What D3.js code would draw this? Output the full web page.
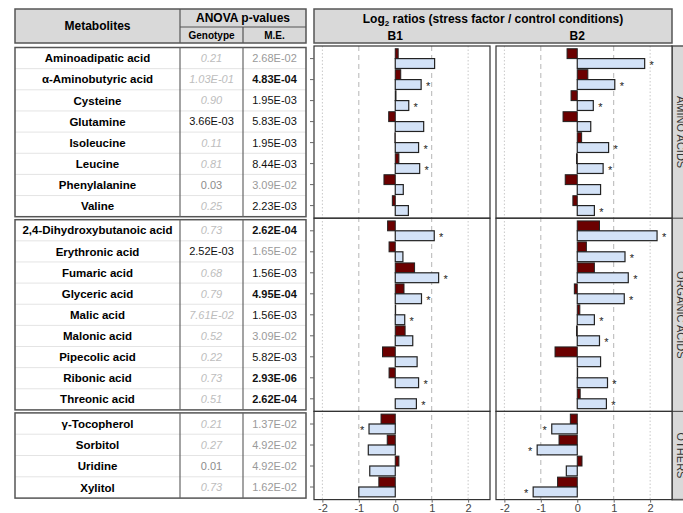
<!DOCTYPE html>
<html>
<head>
<meta charset="utf-8">
<script src="https://cdn.jsdelivr.net/npm/d3@7"></script>
<style>
  body { margin: 0; background: #fff; }
  svg { font-family: "Liberation Sans", Arial, sans-serif; }
</style>
</head>
<body>
<div id="chart"></div>
<script>
// DATA

// Metabolite names, in plot order
var metabolites = [
    "Aminoadipatic acid", "α-Aminobutyric acid", "Cysteine", "Glutamine",
    "Isoleucine", "Leucine", "Phenylalanine", "Valine",
    "2,4-Dihydroxybutanoic acid", "Erythronic acid", "Fumaric acid", "Glyceric acid",
    "Malic acid", "Malonic acid", "Pipecolic acid", "Ribonic acid", "Threonic acid",
    "γ-Tocopherol", "Sorbitol", "Uridine", "Xylitol"
];
// Facet groups and how many metabolites each holds
var groups = ["AMINO ACIDS", "ORGANIC ACIDS", "OTHERS"];
var groupSizes = [8, 9, 4];

// ANOVA p-values as printed
var genotypeP = [
    "0.21", "1.03E-01", "0.90", "3.66E-03", "0.11", "0.81", "0.03", "0.25",
    "0.73", "2.52E-03", "0.68", "0.79", "7.61E-02", "0.52", "0.22", "0.73", "0.51",
    "0.21", "0.27", "0.01", "0.73"
];
var meP = [
    "2.68E-02", "4.83E-04", "1.95E-03", "5.83E-03", "1.95E-03", "8.44E-03", "3.09E-02", "2.23E-03",
    "2.62E-04", "1.65E-02", "1.56E-03", "4.95E-04", "1.56E-03", "3.09E-02", "5.82E-03", "2.93E-06", "2.62E-04",
    "1.37E-02", "4.92E-02", "4.92E-02", "1.62E-02"
];

// Log2 ratios, B1
var b1Dark = [0.08, 0.15, 0.02, -0.18, -0.01, 0.10, -0.31, -0.08,
    -0.21, -0.17, 0.53, 0.24, 0.01, 0.27, -0.35, -0.17, 0.0,
    -0.39, -0.22, 0.10, -0.45];
var b1Light = [1.08, 0.71, 0.37, 0.78, 0.64, 0.67, 0.22, 0.36,
    1.07, 0.21, 1.19, 0.72, 0.26, 0.48, 0.60, 0.64, 0.58,
    -0.72, -0.74, -0.70, -1.00];
var b1Star = [0, 1, 1, 0, 1, 1, 0, 0,
    1, 0, 1, 1, 1, 0, 0, 1, 1,
    1, 0, 0, 0];

// Log2 ratios, B2
var b2Dark = [-0.28, 0.29, -0.17, -0.39, 0.12, -0.02, -0.33, -0.12,
    0.61, 0.25, 0.47, -0.08, 0.07, -0.02, -0.61, 0.01, 0.08,
    -0.19, -0.50, 0.13, -0.54];
var b2Light = [1.85, 1.03, 0.44, 0.37, 0.86, 0.71, 0.64, 0.47,
    2.19, 1.31, 1.40, 1.29, 0.47, 0.61, 0.64, 0.83, 0.80,
    -0.70, -1.10, -0.30, -1.21];
var b2Star = [1, 1, 1, 0, 1, 1, 0, 1,
    1, 1, 1, 1, 1, 1, 0, 1, 1,
    1, 1, 0, 1];

var xTicks = [-2, -1, 0, 1, 2];
var xDomain = [-2.23, 2.6];

// LAYOUT

var width = 683;
var height = 513;
var rowUnit = 21;
var panelTop = 46;
var headTop = 9;
var headBot = 43;
var tableLeft = 15, colGeno = 180, colME = 243, tableRight = 306;
var panels = [
    { name: "B1", left: 314, right: 490, dark: b1Dark, light: b1Light, star: b1Star },
    { name: "B2", left: 496, right: 672, dark: b2Dark, light: b2Light, star: b2Star }
];
var stripRight = 700;
var darkColor = "#6b0000";
var lightColor = "#d3e2f7";
var headFill = "#d9d9d9";

var svg = d3.select("#chart")
    .append("svg")
    .attr("width", width)
    .attr("height", height);

// Build groups with their vertical extents
var groupInfo = [];
var rowStart = 0, curTop = panelTop;
groupSizes.forEach(function(n, g) {
    var bottom = curTop + (n + 0.2) * rowUnit;
    groupInfo.push({
        name: groups[g], start: rowStart, n: n, top: curTop, bottom: bottom,
        y: d3.scaleLinear().domain([-0.6, n - 0.4]).range([curTop, bottom])
    });
    rowStart += n;
    curTop = bottom;
});
var chartBottom = curTop;

// row lookup
var rows = metabolites.map(function(m, i) {
    var g = groupInfo.find(function(gi) { return i >= gi.start && i < gi.start + gi.n; });
    return { i: i, name: m, g: g, k: i - g.start, cy: g.y(i - g.start) };
});

// TABLE

// header
svg.append("rect")
    .attr("x", tableLeft).attr("y", headTop)
    .attr("width", tableRight - tableLeft).attr("height", headBot - headTop)
    .attr("fill", headFill).attr("stroke", "#555").attr("stroke-width", 1.5);
svg.append("line")
    .attr("x1", colGeno).attr("x2", colGeno).attr("y1", headTop).attr("y2", headBot)
    .attr("stroke", "#555").attr("stroke-width", 1.2);
svg.append("line")
    .attr("x1", colGeno).attr("x2", tableRight).attr("y1", 27).attr("y2", 27)
    .attr("stroke", "#555").attr("stroke-width", 1.2);
svg.append("line")
    .attr("x1", colME).attr("x2", colME).attr("y1", 27).attr("y2", headBot)
    .attr("stroke", "#555").attr("stroke-width", 1.2);
svg.append("text")
    .attr("x", (tableLeft + colGeno) / 2).attr("y", 30)
    .attr("text-anchor", "middle").attr("font-size", 12).attr("font-weight", "bold")
    .text("Metabolites");
svg.append("text")
    .attr("x", (colGeno + tableRight) / 2).attr("y", 22)
    .attr("text-anchor", "middle").attr("font-size", 12).attr("font-weight", "bold")
    .text("ANOVA p-values");
svg.append("text")
    .attr("x", (colGeno + colME) / 2).attr("y", 39)
    .attr("text-anchor", "middle").attr("font-size", 10).attr("font-weight", "bold")
    .text("Genotype");
svg.append("text")
    .attr("x", (colME + tableRight) / 2).attr("y", 39)
    .attr("text-anchor", "middle").attr("font-size", 10).attr("font-weight", "bold")
    .text("M.E.");

// body boxes, one per group
groupInfo.forEach(function(g) {
    var bTop = g.top + 1.5, bBot = g.bottom - 1.5;
    var rh = (bBot - bTop) / g.n;
    g.tTop = bTop; g.rh = rh;
    var box = svg.append("g");
    for (var k = 1; k < g.n; k++) {
        box.append("line")
            .attr("x1", tableLeft).attr("x2", tableRight)
            .attr("y1", bTop + k * rh).attr("y2", bTop + k * rh)
            .attr("stroke", "#e4e4e4").attr("stroke-width", 1);
    }
    box.append("rect")
        .attr("x", tableLeft).attr("y", bTop)
        .attr("width", tableRight - tableLeft).attr("height", bBot - bTop)
        .attr("fill", "none").attr("stroke", "#555").attr("stroke-width", 1.5);
    [colGeno, colME].forEach(function(cx) {
        box.append("line")
            .attr("x1", cx).attr("x2", cx).attr("y1", bTop).attr("y2", bBot)
            .attr("stroke", "#666").attr("stroke-width", 1.2);
    });
});

// p-value styles
function genoStyle(s) {
    var p = +s;
    if (p > 0.05) return { fill: "#bdbdbd", italic: true, bold: false };
    if (p >= 0.01) return { fill: "#8c8c8c", italic: false, bold: false };
    return { fill: "#111", italic: false, bold: false };
}
function meStyle(s) {
    var p = +s;
    if (p < 0.001) return { fill: "#111", italic: false, bold: true };
    if (p < 0.01) return { fill: "#111", italic: false, bold: false };
    return { fill: "#9a9a9a", italic: false, bold: false };
}

var trow = svg.selectAll("g.trow").data(rows).enter()
    .append("g").attr("class", "trow")
    .attr("transform", function(d) {
        return "translate(0," + (d.g.tTop + (d.k + 0.5) * d.g.rh) + ")";
    });
trow.append("text")
    .attr("x", (tableLeft + colGeno) / 2).attr("dy", "0.36em")
    .attr("text-anchor", "middle").attr("font-size", 11.5).attr("font-weight", "bold")
    .text(function(d) { return d.name; });
trow.append("text")
    .attr("x", (colGeno + colME) / 2).attr("dy", "0.36em")
    .attr("text-anchor", "middle").attr("font-size", 11)
    .each(function(d) {
        var s = genoStyle(genotypeP[d.i]);
        d3.select(this).attr("fill", s.fill)
            .attr("font-style", s.italic ? "italic" : "normal")
            .attr("font-weight", s.bold ? "bold" : "normal");
    })
    .text(function(d) { return genotypeP[d.i]; });
trow.append("text")
    .attr("x", (colME + tableRight) / 2).attr("dy", "0.36em")
    .attr("text-anchor", "middle").attr("font-size", 11)
    .each(function(d) {
        var s = meStyle(meP[d.i]);
        d3.select(this).attr("fill", s.fill)
            .attr("font-style", s.italic ? "italic" : "normal")
            .attr("font-weight", s.bold ? "bold" : "normal");
    })
    .text(function(d) { return meP[d.i]; });

// CHART HEADER

svg.append("rect")
    .attr("x", panels[0].left).attr("y", headTop)
    .attr("width", panels[1].right - panels[0].left).attr("height", headBot - headTop)
    .attr("fill", headFill).attr("stroke", "#555").attr("stroke-width", 1.5);
var title = svg.append("text")
    .attr("x", (panels[0].left + panels[1].right) / 2).attr("y", 23)
    .attr("text-anchor", "middle").attr("font-size", 12).attr("font-weight", "bold");
title.append("tspan").text("Log");
title.append("tspan").attr("font-size", 8).attr("dy", 3).text("2");
title.append("tspan").attr("dy", -3).text(" ratios (stress factor / control conditions)");

// strip on the right
svg.append("rect")
    .attr("x", panels[1].right).attr("y", panelTop)
    .attr("width", stripRight - panels[1].right).attr("height", chartBottom - panelTop)
    .attr("fill", headFill).attr("stroke", "#555").attr("stroke-width", 1.5);

groupInfo.forEach(function(g) {
    svg.append("line")
        .attr("x1", panels[1].right).attr("x2", stripRight)
        .attr("y1", g.bottom).attr("y2", g.bottom)
        .attr("stroke", "#555").attr("stroke-width", 1.2);
    svg.append("text")
        .attr("transform", "translate(" + (panels[1].right + 4.5) + "," + ((g.top + g.bottom) / 2) + ")rotate(90)")
        .attr("text-anchor", "middle").attr("font-size", 11).attr("fill", "#333")
        .text(g.name);
});

// PANELS

panels.forEach(function(p, pi) {
    var x = d3.scaleLinear().domain(xDomain).range([p.left, p.right]);
    var pg = svg.append("g");

    svg.append("text")
        .attr("x", x(0)).attr("y", 40)
        .attr("text-anchor", "middle").attr("font-size", 12).attr("font-weight", "bold")
        .text(p.name);

    pg.append("rect")
        .attr("x", p.left).attr("y", panelTop)
        .attr("width", p.right - p.left).attr("height", chartBottom - panelTop)
        .attr("fill", "#fff");

    // grid lines
    xTicks.filter(function(t) { return t !== 0; }).forEach(function(t) {
        pg.append("line")
            .attr("x1", x(t)).attr("x2", x(t)).attr("y1", panelTop).attr("y2", chartBottom)
            .attr("stroke", Math.abs(t) === 1 ? "#b5b5b5" : "#c8c8c8")
            .attr("stroke-width", 1)
            .attr("stroke-dasharray", Math.abs(t) === 1 ? "5,4" : "1.5,2");
    });

    var barH = rowUnit * 0.47;
    // dark bars (upper)
    pg.selectAll("rect.dark").data(rows).enter()
        .append("rect").attr("class", "dark")
        .attr("x", function(d) { return x(Math.min(0, p.dark[d.i])); })
        .attr("y", function(d) { return d.cy - barH; })
        .attr("width", function(d) { return Math.abs(x(p.dark[d.i]) - x(0)); })
        .attr("height", barH)
        .attr("fill", darkColor).attr("stroke", "#222").attr("stroke-width", 1);
    // light bars (lower)
    pg.selectAll("rect.light").data(rows).enter()
        .append("rect").attr("class", "light")
        .attr("x", function(d) { return x(Math.min(0, p.light[d.i])); })
        .attr("y", function(d) { return d.cy; })
        .attr("width", function(d) { return Math.abs(x(p.light[d.i]) - x(0)); })
        .attr("height", barH)
        .attr("fill", lightColor).attr("stroke", "#222").attr("stroke-width", 1.2);
    // significance stars
    pg.selectAll("text.star").data(rows.filter(function(d) { return p.star[d.i]; })).enter()
        .append("text").attr("class", "star")
        .attr("x", function(d) {
            var v = p.light[d.i];
            return v >= 0 ? x(v) + 7 : x(v) - 7;
        })
        .attr("y", function(d) { return d.cy + barH / 2 + 5; })
        .attr("text-anchor", "middle").attr("font-size", 11).attr("fill", "#222")
        .text("*");

    // facet borders
    groupInfo.forEach(function(g) {
        pg.append("rect")
            .attr("x", p.left).attr("y", g.top)
            .attr("width", p.right - p.left).attr("height", g.bottom - g.top)
            .attr("fill", "none").attr("stroke", "#333").attr("stroke-width", 1.2);
    });

    // x axis
    var xAxis = d3.axisBottom(x).tickValues(xTicks).tickSize(3).tickPadding(2)
        .tickFormat(function(t) { return String(t); });
    var ax = svg.append("g")
        .attr("transform", "translate(0," + chartBottom + ")")
        .call(xAxis);
    ax.select(".domain").remove();
    ax.selectAll("text").attr("font-size", 11).attr("fill", "#444")
        .attr("font-family", "Liberation Sans, Arial, sans-serif");
    ax.selectAll("line").attr("stroke", "#666");

    // y ticks only on the first panel
    if (pi === 0) {
        svg.selectAll("line.ytick").data(rows).enter()
            .append("line").attr("class", "ytick")
            .attr("x1", p.left - 4).attr("x2", p.left)
            .attr("y1", function(d) { return d.cy; }).attr("y2", function(d) { return d.cy; })
            .attr("stroke", "#666");
    }
});
</script>
</body>
</html>
